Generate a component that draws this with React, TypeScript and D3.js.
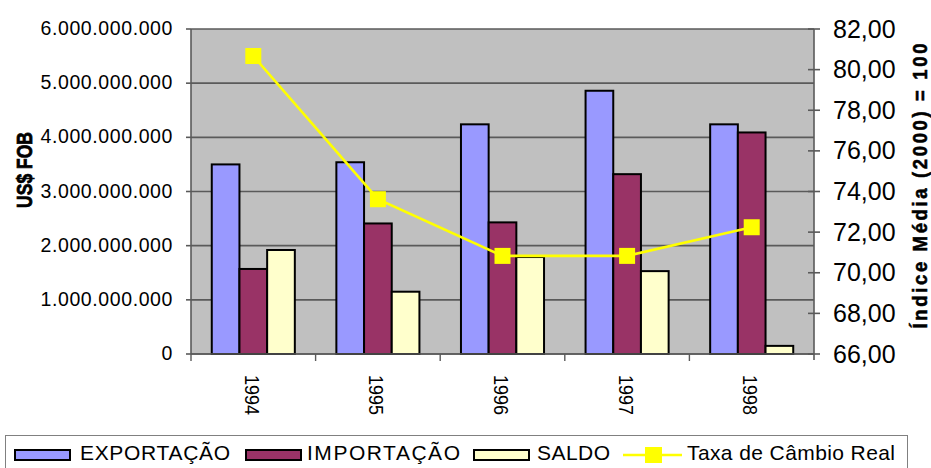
import React from "react";
import * as d3 from "d3";

const years = ["1994", "1995", "1996", "1997", "1998"];
const exportacao = [3.5e9, 3.54e9, 4.24e9, 4.86e9, 4.24e9];
const importacao = [1.57e9, 2.41e9, 2.43e9, 3.32e9, 4.09e9];
const saldo = [1.92e9, 1.15e9, 1.79e9, 1.53e9, 0.15e9];
const taxa = [80.67, 73.62, 70.83, 70.83, 72.24];
const leftTicks = [0, 1e9, 2e9, 3e9, 4e9, 5e9, 6e9];
const rightTicks = [66, 68, 70, 72, 74, 76, 78, 80, 82];
const seriesNames = ["EXPORTAÇÃO", "IMPORTAÇÃO", "SALDO"];
const lineName = "Taxa de Câmbio Real";

const W = 931, H = 468;
const X0 = 191, X1 = 814, Y0 = 29, Y1 = 354;
const colors = ["#9999FF", "#993366", "#FFFFCC"];
const FONT = "'Liberation Sans', Arial, sans-serif";

const fmtLeft = (v: number) =>
  v === 0 ? "0" : d3.format(",")(v).replace(/,/g, ".");
const fmtRight = (v: number) => v.toFixed(2).replace(".", ",");

export default function App() {
  const x = d3.scaleBand().domain(years).range([X0, X1]).paddingInner(0).paddingOuter(0);
  const band = x.bandwidth();
  const barW = band / 4.5;
  const inner = d3.scaleBand().domain(["0", "1", "2"]).range([0.75 * barW, 3.75 * barW]);
  const yL = d3.scaleLinear().domain([0, 6e9]).range([Y1, Y0]);
  const yR = d3.scaleLinear().domain([66, 82]).range([Y1, Y0]);
  const series = [exportacao, importacao, saldo];
  const line = d3
    .line<number>()
    .x((_, i) => (x(years[i]) as number) + band / 2)
    .y((d) => yR(d));

  const legendSw = [
    { x: 15, tx: 80, tw: 150 },
    { x: 246, tx: 307, tw: 153 },
    { x: 474, tx: 537, tw: 73 },
  ];

  return (
    <svg
      width={W}
      height={H}
      style={{ position: "absolute", left: 0, top: 0, background: "#fff" }}
      fontFamily={FONT}
    >
      <rect x={X0} y={Y0} width={X1 - X0} height={Y1 - Y0} fill="#C0C0C0" />
      {leftTicks.map((t) => (
        <line key={"g" + t} x1={X0} x2={X1} y1={yL(t)} y2={yL(t)} stroke="#5a5a5a" strokeWidth={1.6} />
      ))}
      <line x1={X0} x2={X0} y1={Y0} y2={Y1} stroke="#5a5a5a" strokeWidth={1.6} />
      <line x1={X1} x2={X1} y1={Y0} y2={Y1 + 6} stroke="#5a5a5a" strokeWidth={1.6} />
      {leftTicks.map((t) => (
        <g key={"lt" + t}>
          <line x1={X0 - 5} x2={X0} y1={yL(t)} y2={yL(t)} stroke="#5a5a5a" strokeWidth={1.6} />
          <text
            x={173}
            y={yL(t) + 6}
            fontSize={19.5}
            letterSpacing={0.6}
            textAnchor="end"
            fill="#000"
          >
            {fmtLeft(t)}
          </text>
        </g>
      ))}
      {rightTicks.map((t) => (
        <g key={"rt" + t}>
          <line x1={X1 - 6} x2={X1 + 6} y1={yR(t)} y2={yR(t)} stroke="#5a5a5a" strokeWidth={1.6} />
          <text x={833} y={yR(t) + 8.5} fontSize={25} fill="#000">
            {fmtRight(t)}
          </text>
        </g>
      ))}
      {series.map((vals, si) =>
        vals.map((v, i) => (
          <rect
            key={"b" + si + "-" + i}
            x={(x(years[i]) as number) + (inner(String(si)) as number)}
            y={yL(v)}
            width={inner.bandwidth()}
            height={Y1 - yL(v)}
            fill={colors[si]}
            stroke="#000"
            strokeWidth={2}
          />
        ))
      )}
      <line x1={X0} x2={X1} y1={Y1} y2={Y1} stroke="#5a5a5a" strokeWidth={1.6} />
      {years.map((y) => (
        <line
          key={"ct" + y}
          x1={x(y) as number}
          x2={x(y) as number}
          y1={Y1}
          y2={Y1 + 7}
          stroke="#5a5a5a"
          strokeWidth={1.4}
        />
      ))}
      {years.map((y) => {
        const cx = (x(y) as number) + band / 2 - 1;
        return (
          <text
            key={"yl" + y}
            transform={`translate(${cx},375) rotate(90) scale(1,1.15)`}
            fontSize={18}
            dominantBaseline="central"
            fill="#000"
          >
            {y}
          </text>
        );
      })}
      <path d={line(taxa) || ""} fill="none" stroke="#FFFF00" strokeWidth={2.6} />
      {taxa.map((v, i) => (
        <rect
          key={"m" + i}
          x={(x(years[i]) as number) + band / 2 - 8}
          y={yR(v) - 8}
          width={16}
          height={16}
          fill="#FFFF00"
        />
      ))}
      <text
        transform="translate(32,170) rotate(-90) scale(1,1.3)"
        fontSize={17.5}
        fontWeight="bold"
        textAnchor="middle"
        stroke="#000"
        strokeWidth={0.6}
        fill="#000"
      >
        US$ FOB
      </text>
      <text
        transform="translate(927,186) rotate(-90) scale(1,1.1)"
        fontSize={18.5}
        fontWeight="bold"
        textAnchor="middle"
        textLength={285}
        lengthAdjust="spacing"
        stroke="#000"
        strokeWidth={0.5}
        fill="#000"
      >
        Índice Média (2000) = 100
      </text>
      {/* legend */}
      <rect x={5.5} y={435.5} width={902} height={40} fill="#fff" stroke="#808080" strokeWidth={1} />
      {seriesNames.map((n, i) => (
        <g key={"lg" + n}>
          <rect x={legendSw[i].x} y={450} width={55} height={10} fill={colors[i]} stroke="#000" strokeWidth={2} />
          <text
            x={legendSw[i].tx}
            y={459.5}
            fontSize={21}
            textLength={legendSw[i].tw}
            lengthAdjust="spacing"
            fill="#000"
          >
            {n}
          </text>
        </g>
      ))}
      <line x1={623} x2={682} y1={455} y2={455} stroke="#FFFF00" strokeWidth={2.6} />
      <rect x={645} y={447} width={17} height={16} fill="#FFFF00" />
      <text x={687} y={459.5} fontSize={21} textLength={208} lengthAdjust="spacing" fill="#000">
        {lineName}
      </text>
    </svg>
  );
}
